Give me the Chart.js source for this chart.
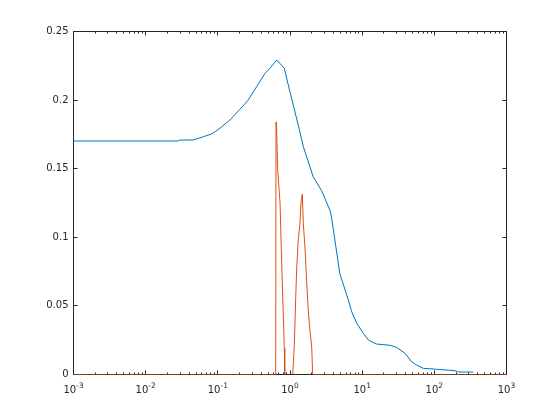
<!DOCTYPE html>
<html>
<head>
<meta charset="utf-8">
<script src="https://cdn.jsdelivr.net/npm/chart.js@4"></script>
<style>
  body { margin: 0; background: #fff; }
  canvas { display: block; }
</style>
</head>
<body>
<canvas id="c" width="560" height="420"></canvas>
<script>
// blue curve
const blueX = [0.001, 0.028, 0.03, 0.0457, 0.063, 0.0822, 0.107, 0.147, 0.203, 0.264, 0.345, 0.45, 0.528, 0.655, 0.834, 0.946, 1.11, 1.30, 1.53, 2.1, 2.74, 3.57, 3.75, 4.9, 6.43, 7.16, 8.4, 10.4, 12.2, 15.9, 24.3, 30, 39.2, 48.5, 56.9, 70.3, 108, 193, 215, 347];
const blueY = [0.1702, 0.1702, 0.1709, 0.1709, 0.1733, 0.1753, 0.1795, 0.1855, 0.1934, 0.2001, 0.2098, 0.2195, 0.2232, 0.2292, 0.2232, 0.2110, 0.1964, 0.1818, 0.1660, 0.144, 0.134, 0.1198, 0.115, 0.0737, 0.0543, 0.0458, 0.0373, 0.030, 0.0251, 0.0222, 0.0213, 0.0198, 0.0155, 0.0093, 0.0069, 0.0045, 0.0038, 0.0028, 0.0018, 0.0018];

// orange spikes (null = gap)
const redX = [0.001, 0.634, 0.640, 0.650, 0.676, 0.728, 0.767, 0.793, 0.818, 0.834, 0.846, 0.95, 1.09, 1.148, 1.20, 1.24, 1.30, 1.375, 1.42, 1.48, 1.53, 1.61, 1.70, 1.79, 1.89, 2.0, 2.06, 1000];
const redY = [0, 0, 0.184, 0.182, 0.149, 0.125, 0.081, 0.0565, 0.0335, 0.019, 0, null, 0, 0.021, 0.056, 0.078, 0.098, 0.110, 0.125, 0.1315, 0.110, 0.093, 0.0687, 0.0467, 0.032, 0.020, 0, 0];

const xTicks = [0.001, 0.01, 0.1, 1, 10, 100, 1000];
const xTickBase = '10';
const xTickExp = ['-3', '-2', '-1', '0', '1', '2', '3'];
const yTicks = [0, 0.05, 0.1, 0.15, 0.2, 0.25];
const yTickLabels = ['0', '0.05', '0.1', '0.15', '0.2', '0.25'];

const axisColor = '#262626';
const fontFamily = 'DejaVu Sans';

function pts(xs, ys) {
    return xs.map((x, i) => ({ x: x, y: ys[i] }));
}

// box + inward ticks like matlab
const boxPlugin = {
    id: 'box',
    beforeDatasetsDraw(chart) {
        const { ctx, chartArea: a, scales } = chart;
        const L = a.left, R = a.right, T = a.top, B = a.bottom;
        ctx.save();
        ctx.strokeStyle = axisColor;
        ctx.lineWidth = 1;
        ctx.beginPath();
        ctx.rect(L, T, R - L, B - T);
        yTicks.forEach(v => {
            const py = Math.round(scales.y.getPixelForValue(v) - 0.5) + 0.5;
            ctx.moveTo(L, py); ctx.lineTo(L + 4, py);
            ctx.moveTo(R, py); ctx.lineTo(R - 4, py);
        });
        for (let d = -3; d <= 3; d++) {
            for (let k = 1; k <= 9; k++) {
                const v = k * Math.pow(10, d);
                if (v > 1000) break;
                const px = Math.round(scales.x.getPixelForValue(v) - 0.5) + 0.5;
                const len = k === 1 ? 4 : 2;
                ctx.moveTo(px, B); ctx.lineTo(px, B - len);
                ctx.moveTo(px, T); ctx.lineTo(px, T + len);
            }
        }
        ctx.stroke();
        ctx.restore();
    },
    // x labels as 10 with raised exponent
    afterDraw(chart) {
        const { ctx, chartArea: a, scales } = chart;
        ctx.save();
        ctx.fillStyle = axisColor;
        ctx.textBaseline = 'alphabetic';
        ctx.textAlign = 'left';
        xTicks.forEach((v, i) => {
            const px = scales.x.getPixelForValue(v);
            ctx.font = '10px "' + fontFamily + '"';
            const w1 = ctx.measureText(xTickBase).width;
            ctx.font = '7.5px "' + fontFamily + '"';
            const w2 = ctx.measureText(xTickExp[i]).width;
            const x0 = px - (w1 + w2) / 2;
            ctx.font = '10px "' + fontFamily + '"';
            ctx.fillText(xTickBase, x0, a.bottom + 18.5);
            ctx.font = '7.5px "' + fontFamily + '"';
            ctx.fillText(xTickExp[i], x0 + w1, a.bottom + 13.5);
        });
        ctx.restore();
    }
};

new Chart(document.getElementById('c'), {
    type: 'scatter',
    data: {
        datasets: [
            { data: pts(blueX, blueY), showLine: true, borderColor: '#0072BD', borderWidth: 1, pointRadius: 0, fill: false },
            { data: pts(redX, redY), showLine: true, spanGaps: false, borderColor: '#D95319', borderWidth: 1, pointRadius: 0, fill: false }
        ]
    },
    options: {
        responsive: false,
        animation: false,
        layout: { padding: { top: 31.5, right: 53.5, left: 0, bottom: 0 } },
        plugins: { legend: { display: false }, tooltip: { enabled: false } },
        scales: {
            x: {
                type: 'logarithmic',
                min: 0.001, max: 1000,
                grid: { display: false, drawTicks: false },
                border: { display: false },
                afterBuildTicks: s => { s.ticks = xTicks.map(v => ({ value: v })); },
                afterFit: s => { s.height = 45.5; },
                ticks: { display: false }
            },
            y: {
                min: 0, max: 0.25,
                grid: { display: false, drawTicks: false },
                border: { display: false },
                afterBuildTicks: s => { s.ticks = yTicks.map(v => ({ value: v })); },
                afterFit: s => { s.width = 73.5; },
                ticks: {
                    padding: 5, color: axisColor, font: { family: fontFamily, size: 10 },
                    callback: v => yTickLabels[yTicks.indexOf(v)]
                }
            }
        }
    },
    plugins: [boxPlugin]
});
</script>
</body>
</html>
